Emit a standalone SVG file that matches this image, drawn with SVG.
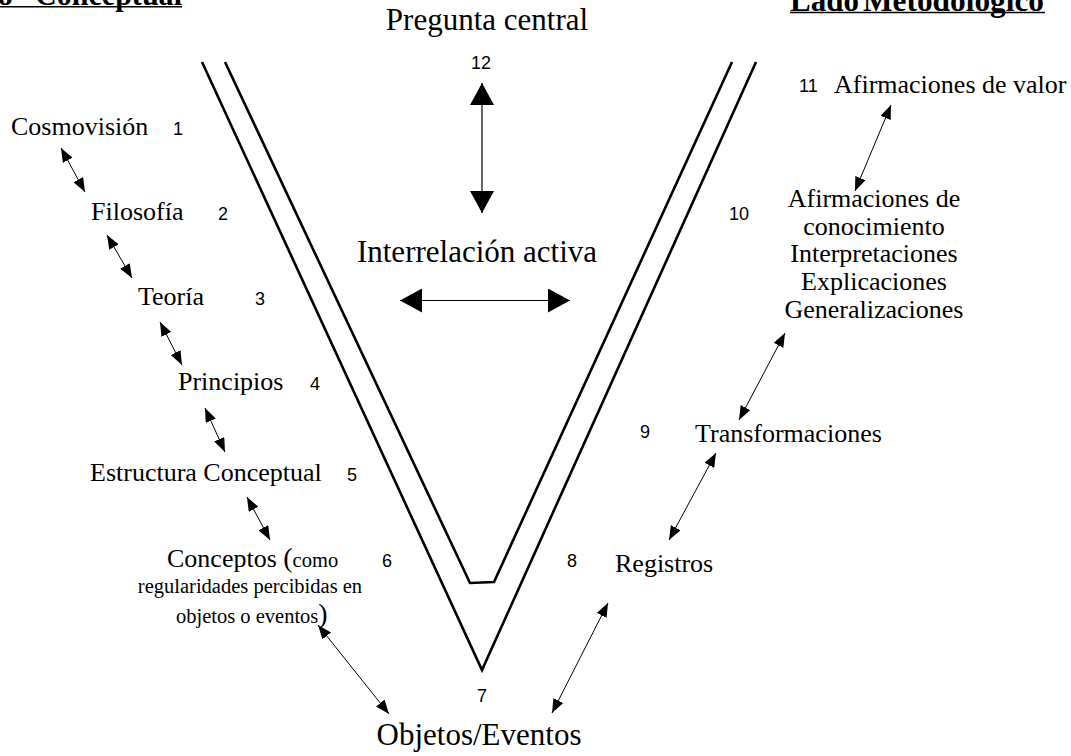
<svg xmlns="http://www.w3.org/2000/svg" width="1071" height="756" viewBox="0 0 1071 756">
<defs>
<style>
.lbl{font-family:"Liberation Serif","Times New Roman",serif;font-size:26px;fill:#000}
.big{font-family:"Liberation Serif","Times New Roman",serif;font-size:31px;fill:#000}
.sm{font-family:"Liberation Serif","Times New Roman",serif;font-size:20.5px;fill:#000}
.num{font-family:"Liberation Sans",Arial,sans-serif;font-size:18px;fill:#000}
.hdr{font-family:"Liberation Serif","Times New Roman",serif;font-size:31px;font-weight:bold;fill:#000}
.vline{fill:none;stroke:#000;stroke-width:2.6;stroke-linejoin:miter}
.conn{stroke:#000;stroke-width:1;fill:none;marker-start:url(#ah);marker-end:url(#ah)}
.conn-big{stroke:#000;stroke-width:1.2;fill:none;marker-start:url(#ahb);marker-end:url(#ahb)}
</style>
<marker id="ah" markerUnits="userSpaceOnUse" markerWidth="14" markerHeight="11" refX="14" refY="5.5" orient="auto-start-reverse" viewBox="0 0 14 11">
<path d="M0,0 L14,5.5 L0,11 Z" fill="#000"/>
</marker>
<marker id="ahb" markerUnits="userSpaceOnUse" markerWidth="22" markerHeight="24" refX="22" refY="12" orient="auto-start-reverse" viewBox="0 0 22 24">
<path d="M0,0 L22,12 L0,24 Z" fill="#000"/>
</marker>
</defs>
<rect width="1071" height="756" fill="#fff"/>

<g id="headers">
<text class="hdr" x="13" y="5" text-anchor="end">Lado</text>
<text class="hdr" x="35" y="5" textLength="147" lengthAdjust="spacingAndGlyphs">Conceptual</text>
<line x1="0" y1="6.8" x2="182" y2="6.8" stroke="#000" stroke-width="1.6"/>
<text class="hdr" x="859" y="10.5" text-anchor="end">Lado</text>
<text class="hdr" x="863" y="10.5" textLength="181" lengthAdjust="spacingAndGlyphs">Metodológico</text>
<line x1="790" y1="12.5" x2="1045" y2="12.5" stroke="#000" stroke-width="1.6"/>
</g>

<g id="v-shape">
<polyline class="vline" points="202,62 482,670 756,62"/>
<polyline class="vline" points="225,62 470,583 494,582 732,62"/>
</g>

<g id="pregunta"><text class="big" x="487" y="30" text-anchor="middle">Pregunta central</text></g>
<g id="interrelacion"><text class="big" x="477" y="262" text-anchor="middle">Interrelación activa</text></g>
<g id="objetos"><text class="big" x="479" y="745" text-anchor="middle" font-size="29.5">Objetos/Eventos</text></g>

<g id="cosmovision"><text class="lbl" x="11" y="135">Cosmovisión</text></g>
<g id="filosofia"><text class="lbl" x="91" y="220">Filosofía</text></g>
<g id="teoria"><text class="lbl" x="138" y="305">Teoría</text></g>
<g id="principios"><text class="lbl" x="178" y="390">Principios</text></g>
<g id="estructura"><text class="lbl" x="90" y="481">Estructura Conceptual</text></g>
<g id="conceptos">
<text class="lbl" x="167" y="567">Conceptos <tspan font-size="28">(</tspan><tspan font-size="20.5">como</tspan></text>
<text class="sm" x="250" y="593" text-anchor="middle">regularidades percibidas en</text>
<text class="sm" x="176" y="623">objetos o eventos<tspan font-size="28">)</tspan></text>
</g>

<g id="afirm-valor"><text class="lbl" x="834" y="93">Afirmaciones de valor</text></g>
<g id="afirm-conoc">
<text class="lbl" x="874" y="207" text-anchor="middle">Afirmaciones de</text>
<text class="lbl" x="874" y="235" text-anchor="middle">conocimiento</text>
<text class="lbl" x="874" y="262" text-anchor="middle">Interpretaciones</text>
<text class="lbl" x="874" y="290" text-anchor="middle">Explicaciones</text>
<text class="lbl" x="874" y="318" text-anchor="middle">Generalizaciones</text>
</g>
<g id="transformaciones"><text class="lbl" x="695" y="442">Transformaciones</text></g>
<g id="registros"><text class="lbl" x="615" y="572">Registros</text></g>

<g id="numbers">
<text class="num" x="173" y="135">1</text>
<text class="num" x="218" y="220">2</text>
<text class="num" x="255" y="305">3</text>
<text class="num" x="310" y="390">4</text>
<text class="num" x="347" y="481">5</text>
<text class="num" x="382" y="567">6</text>
<text class="num" x="477" y="702">7</text>
<text class="num" x="567" y="567">8</text>
<text class="num" x="640" y="438">9</text>
<text class="num" x="729" y="220">10</text>
<text class="num" x="799" y="92">11</text>
<text class="num" x="471" y="69">12</text>
</g>

<g id="connectors">
<line class="conn-big" x1="482" y1="83" x2="482" y2="213"/>
<line class="conn-big" x1="400" y1="300.5" x2="570" y2="300.5"/>
<line class="conn" x1="61" y1="148" x2="85" y2="192"/>
<line class="conn" x1="107" y1="235" x2="132" y2="278"/>
<line class="conn" x1="160" y1="322" x2="182" y2="365"/>
<line class="conn" x1="205" y1="408" x2="225" y2="452"/>
<line class="conn" x1="247" y1="497" x2="270" y2="540"/>
<line class="conn" x1="318" y1="625" x2="389" y2="714"/>
<line class="conn" x1="608" y1="603" x2="552" y2="713"/>
<line class="conn" x1="716" y1="453" x2="669" y2="540"/>
<line class="conn" x1="785" y1="333" x2="739" y2="420"/>
<line class="conn" x1="891" y1="105" x2="855" y2="191"/>
</g>
</svg>
